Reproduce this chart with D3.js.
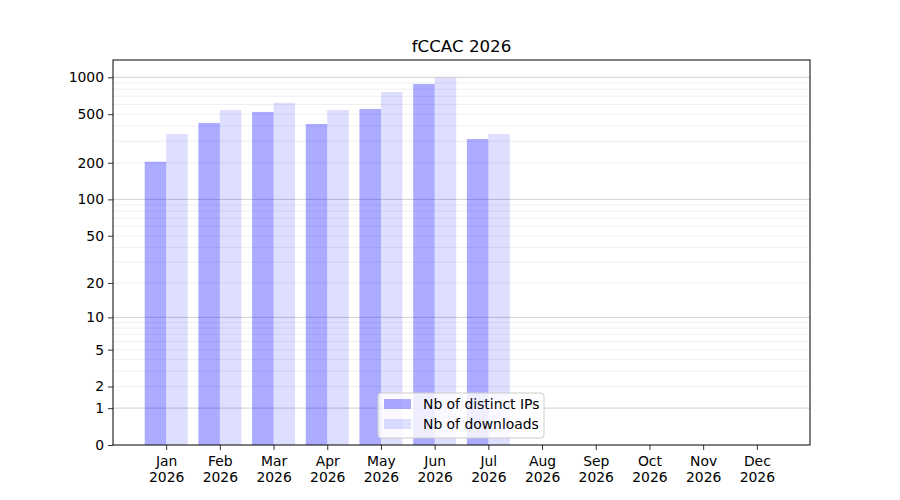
<!DOCTYPE html>
<html>
<head>
<meta charset="utf-8">
<script src="https://cdn.jsdelivr.net/npm/d3@7"></script>
<style>
  body { margin: 0; background: #fff; }
  text { font-family: "DejaVu Sans", sans-serif; fill: #000; }
</style>
</head>
<body>
<div id="chart"></div>
<script>
// months shown on the x axis
var months = ["Jan", "Feb", "Mar", "Apr", "May", "Jun", "Jul", "Aug", "Sep", "Oct", "Nov", "Dec"];
var year = "2026";
// values (only Jan..Jul have data)
var distinctIPs = [204, 424, 521, 416, 551, 882, 313];
var downloads = [344, 541, 618, 541, 759, 993, 344];
var seriesNames = ["Nb of distinct IPs", "Nb of downloads"];
var yTicks = [0, 1, 2, 5, 10, 20, 50, 100, 200, 500, 1000];
var yMajorGrid = [1, 10, 100, 1000];

var width = 900, height = 500;
var margin = {top: 60, right: 90, bottom: 55, left: 113};
var fontSize = "13.9px";

var svg = d3.select("#chart").append("svg")
	.attr("width", width)
	.attr("height", height);

var x = d3.scaleLinear()
	.domain([-0.99, 11.99])
	.range([margin.left, width - margin.right]);

var y = d3.scaleSymlog()
	.constant(1)
	.domain([0, 1385])
	.range([height - margin.bottom, margin.top]);

// minor grid: 2..9 times each decade
var minorGrid = [];
[1, 10, 100, 1000].forEach(function(dec){
	for (var m = 2; m <= 9; m++){
		if (dec * m <= 1385) minorGrid.push(dec * m);
	}
});

var grid = svg.append("g");
grid.selectAll("line.minor")
	.data(minorGrid)
	.enter().append("line")
	.attr("class", "minor")
	.attr("x1", margin.left).attr("x2", width - margin.right)
	.attr("y1", function(d){ return y(d); })
	.attr("y2", function(d){ return y(d); })
	.style("stroke", "#ebebeb")
	.style("stroke-width", 0.8);
grid.selectAll("line.major")
	.data(yMajorGrid)
	.enter().append("line")
	.attr("class", "major")
	.attr("x1", margin.left).attr("x2", width - margin.right)
	.attr("y1", function(d){ return y(d); })
	.attr("y2", function(d){ return y(d); })
	.style("stroke", "#c4c4c4")
	.style("stroke-width", 0.8);

var barW = 0.4;
var bars = svg.append("g");
bars.selectAll("rect.ips")
	.data(distinctIPs)
	.enter().append("rect")
	.attr("class", "ips")
	.attr("x", function(d, i){ return x(i - barW); })
	.attr("width", function(d, i){ return x(i) - x(i - barW); })
	.attr("y", function(d){ return y(d); })
	.attr("height", function(d){ return y(0) - y(d); })
	.attr("fill", "blue")
	.attr("fill-opacity", 0.33);
bars.selectAll("rect.dl")
	.data(downloads)
	.enter().append("rect")
	.attr("class", "dl")
	.attr("x", function(d, i){ return x(i); })
	.attr("width", function(d, i){ return x(i + barW) - x(i); })
	.attr("y", function(d){ return y(d); })
	.attr("height", function(d){ return y(0) - y(d); })
	.attr("fill", "blue")
	.attr("fill-opacity", 0.13);

// axes
var xAxis = d3.axisBottom(x)
	.tickValues(d3.range(months.length))
	.tickSize(5)
	.tickPadding(5)
	.tickFormat(function(i){ return months[i]; });
var gx = svg.append("g")
	.attr("transform", "translate(0," + (height - margin.bottom) + ")")
	.call(xAxis);
gx.select(".domain").remove();
gx.selectAll(".tick text")
	.style("font-size", fontSize)
	.each(function(i){
		var t = d3.select(this);
		t.text(null);
		t.append("tspan").attr("x", 0).attr("dy", "0.76em").text(months[i]);
		t.append("tspan").attr("x", 0).attr("dy", "1.17em").text(year);
	});

var yAxis = d3.axisLeft(y)
	.tickValues(yTicks)
	.tickSize(5)
	.tickPadding(4)
	.tickFormat(d3.format("d"));
var gy = svg.append("g")
	.attr("transform", "translate(" + margin.left + ",0)")
	.call(yAxis);
gy.select(".domain").remove();
gy.selectAll(".tick text").style("font-size", fontSize);

svg.selectAll(".tick line").style("stroke", "#000").style("stroke-width", 0.8);

// frame
svg.append("rect")
	.attr("x", margin.left).attr("y", margin.top)
	.attr("width", width - margin.right - margin.left)
	.attr("height", height - margin.bottom - margin.top)
	.attr("fill", "none")
	.style("stroke", "#000")
	.style("stroke-width", 1);

// title
svg.append("text")
	.attr("x", (margin.left + width - margin.right) / 2)
	.attr("y", 52)
	.attr("text-anchor", "middle")
	.style("font-size", "16.7px")
	.text("fCCAC " + year);

// legend, lower centre
var leg = svg.append("g").attr("transform", "translate(378,393)");
leg.append("rect")
	.attr("width", 166).attr("height", 45)
	.attr("rx", 3)
	.attr("fill", "#fff").attr("fill-opacity", 0.8)
	.style("stroke", "#ccc").style("stroke-width", 1);
var legOpacity = [0.33, 0.13];
seriesNames.forEach(function(name, i){
	leg.append("rect")
		.attr("x", 6).attr("y", 6 + i * 20)
		.attr("width", 27).attr("height", 10)
		.attr("fill", "blue").attr("fill-opacity", legOpacity[i]);
	leg.append("text")
		.attr("x", 45).attr("y", 16 + i * 20)
		.style("font-size", fontSize)
		.text(name);
});
</script>
</body>
</html>
